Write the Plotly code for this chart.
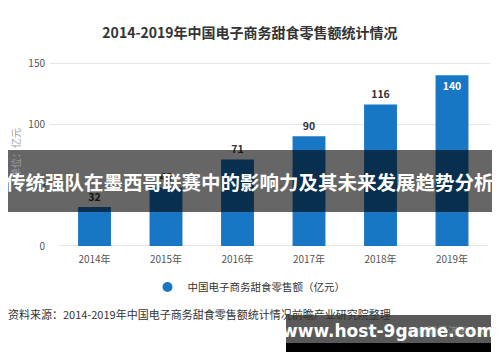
import plotly.graph_objects as go

# ---- data ----
years = ["2014年", "2015年", "2016年", "2017年", "2018年", "2019年"]
sales = [32, 48, 71, 90, 116, 140]
y_ticks = [0, 50, 100, 150]

title_text = "2014-2019年中国电子商务甜食零售额统计情况"
series_name = "中国电子商务甜食零售额（亿元）"
y_title = "单位：亿元"
source_text = "资料来源：2014-2019年中国电子商务甜食零售额统计情况前瞻产业研究院整理"
credit_text = "@前瞻经济学人APP"
banner_text = "传统强队在墨西哥联赛中的影响力及其未来发展趋势分析"
site_text = "www.host-9game.com"

FONT = "Noto Sans CJK SC"
BLUE = "#1777c4"

# ---- layout geometry ----
# The page body has an 8px default margin, so the figure is drawn offset by 8px.
OFF = 8
W, H = 500 - OFF, 362 - OFF
# plot area in screen (reference) pixels
L, R, T, B = 50, 490, 55, 246


def px(x):
    return (x - L) / (R - L)


def py(y):
    return (B - y) / (B - T)


positions = ["outside"] * (len(sales) - 1) + ["inside"]

fig = go.Figure()
fig.add_trace(go.Bar(
    x=years, y=sales,
    marker=dict(color=BLUE, line=dict(width=0)),
    width=0.46,
    text=[str(v) for v in sales],
    texttemplate="<b>%{text}</b>",
    textposition=positions,
    insidetextanchor="end",
    constraintext="none",
    outsidetextfont=dict(color="#333333", size=10.5, family=FONT),
    insidetextfont=dict(color="#ffffff", size=10.5, family=FONT),
    cliponaxis=False,
    showlegend=False,
    hoverinfo="skip",
))
# legend entry with circular marker
fig.add_trace(go.Scatter(
    x=[None], y=[None], mode="markers",
    marker=dict(color=BLUE, size=10, symbol="circle"),
    name=series_name, showlegend=True,
))

fig.update_layout(
    width=W, height=H,
    margin=dict(l=L - OFF, r=W - (R - OFF), t=T - OFF, b=H - (B - OFF), pad=0,
                autoexpand=False),
    paper_bgcolor="white", plot_bgcolor="white",
    font=dict(family=FONT, color="#555555", size=10),
    title=dict(text="<b>" + title_text + "</b>", x=(250 - OFF) / W, xanchor="center",
               y=1 - (33 - OFF) / H, yref="container", yanchor="middle",
               font=dict(size=14, color="#333333", family=FONT)),
    legend=dict(orientation="h", x=px(249), xanchor="center",
                y=py(287), yanchor="middle",
                font=dict(size=10.5, color="#333333", family=FONT),
                bgcolor="rgba(0,0,0,0)", itemwidth=30),
)
fig.update_xaxes(
    type="category", range=[(L - 94.5) / 71.5, (R - 94.5) / 71.5],
    showgrid=False, showline=False, zeroline=False, ticks="",
    ticklabelstandoff=6, automargin=False,
    tickfont=dict(size=10, color="#555555", family=FONT),
)
fig.update_yaxes(
    range=[0, (B - T) / 1.22], tickvals=y_ticks,
    showgrid=True, gridcolor="#e6e6e6", gridwidth=1,
    zeroline=False, showline=False, ticks="",
    ticklabelstandoff=4, automargin=False,
    tickfont=dict(size=10, color="#555555", family=FONT),
)

shapes = [
    # x axis baseline
    dict(type="line", xref="x", yref="y", x0=-0.5, x1=5.5, y0=0, y1=0,
         line=dict(color="#cccccc", width=1), layer="below"),
    # big translucent banner
    dict(type="rect", xref="paper", yref="paper",
         x0=px(-5), x1=px(505), y0=py(212), y1=py(150),
         fillcolor="rgba(0,0,0,0.6)", line=dict(width=0), layer="above"),
    # site banner (gray part)
    dict(type="rect", xref="paper", yref="paper",
         x0=px(286), x1=px(491), y0=py(343), y1=py(315),
         fillcolor="rgba(0,0,0,0.65)", line=dict(width=0), layer="above"),
    # site banner (black part)
    dict(type="rect", xref="paper", yref="paper",
         x0=px(286), x1=px(491), y0=py(352), y1=py(343),
         fillcolor="#000000", line=dict(width=0), layer="above"),
]
fig.update_layout(shapes=shapes)

annotations = [
    dict(text=y_title, xref="paper", yref="paper", x=px(15), y=py(153),
         textangle=-90, showarrow=False, xanchor="center", yanchor="middle",
         font=dict(size=10, color="#a0a0a0", family=FONT)),
    dict(text=source_text, xref="paper", yref="paper", x=px(6), y=py(314),
         showarrow=False, xanchor="left", yanchor="middle",
         font=dict(size=11, color="#333333", family=FONT)),
    dict(text=credit_text, xref="paper", yref="paper", x=px(498), y=py(330),
         showarrow=False, xanchor="right", yanchor="middle",
         font=dict(size=10, color="#8a8a8a", family=FONT)),
    dict(text="<b>" + banner_text + "</b>", xref="paper", yref="paper",
         x=px(250), y=py(181), showarrow=False, xanchor="center", yanchor="middle",
         font=dict(size=19.5, color="#ffffff", family=FONT)),
    dict(text="<b>" + site_text + "</b>", xref="paper", yref="paper",
         x=px(388), y=py(331), showarrow=False, xanchor="center", yanchor="middle",
         font=dict(size=17, color="#ffffff", family="DejaVu Sans")),
]
fig.update_layout(annotations=annotations)

fig.write_html("out.html")
